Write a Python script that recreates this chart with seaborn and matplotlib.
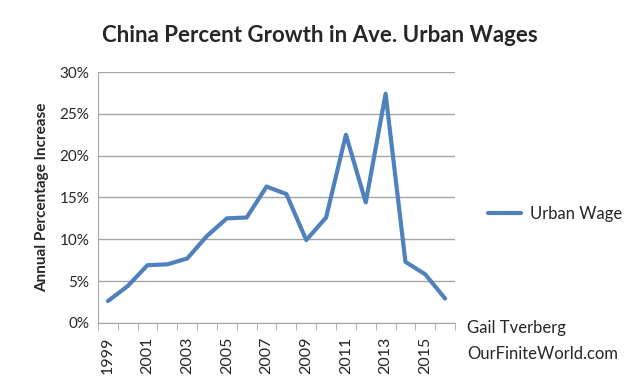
import matplotlib
matplotlib.use("Agg")
import matplotlib.pyplot as plt
import seaborn as sns
import pandas as pd
import numpy as np

# values
years = list(range(1999, 2017))
growth = [2.6, 4.4, 6.9, 7.0, 7.7, 10.4, 12.5, 12.6, 16.3, 15.4,
          9.9, 12.6, 22.5, 14.4, 27.4, 7.3, 5.8, 2.9]
yticks = [0, 5, 10, 15, 20, 25, 30]

df = pd.DataFrame({"pos": np.arange(len(years)), "growth": growth})

sns.set_style("white")
plt.rcParams['font.family'] = ['Lato', 'DejaVu Sans']

fig = plt.figure(figsize=(6.4, 3.83), dpi=100)
ax = fig.add_axes([0.153, 0.157, 0.558, 0.655])

sns.lineplot(data=df, x="pos", y="growth", ax=ax, color="#4f81bd",
             linewidth=3, label="Urban Wage", legend=False)

ax.set_xlim(-0.5, len(years) - 0.5)
ax.set_ylim(0, 30)
ax.set_yticks(yticks)
ax.set_yticklabels([f"{v}%" for v in yticks], fontsize=11)
ax.yaxis.grid(True, color="#a6a6a6", linewidth=1)
ax.set_axisbelow(True)

ax.set_xticks(np.arange(0, len(years), 2))
ax.set_xticklabels([str(y) for y in years[::2]], rotation=90, fontsize=11.5)
ax.set_xticks(np.arange(-0.5, len(years), 1), minor=True)
ax.tick_params(axis="x", which="major", length=0, pad=10)
ax.tick_params(axis="x", which="minor", length=5, color="#a6a6a6", bottom=True)
ax.tick_params(axis="y", length=0, pad=6)

for s in ["top", "right"]:
    ax.spines[s].set_visible(False)
for s in ["left", "bottom"]:
    ax.spines[s].set_color("#a6a6a6")

ax.set_xlabel("")
ax.set_ylabel("Annual Percentage Increase", fontsize=11, fontweight="bold",
              labelpad=8)

fig.text(0.5, 0.908, "China Percent Growth in Ave. Urban Wages",
         ha="center", va="center", fontsize=16, fontweight="bold")

ax.legend(loc="center left", bbox_to_anchor=(1.05, 0.435), frameon=False,
          fontsize=12, handlelength=2.0, handletextpad=0.5)

fig.text(0.73, 0.11, "Gail Tverberg\nOurFiniteWorld.com", ha="left",
         va="center", fontsize=12, linespacing=1.8)

fig.savefig("out.png", dpi=100)
